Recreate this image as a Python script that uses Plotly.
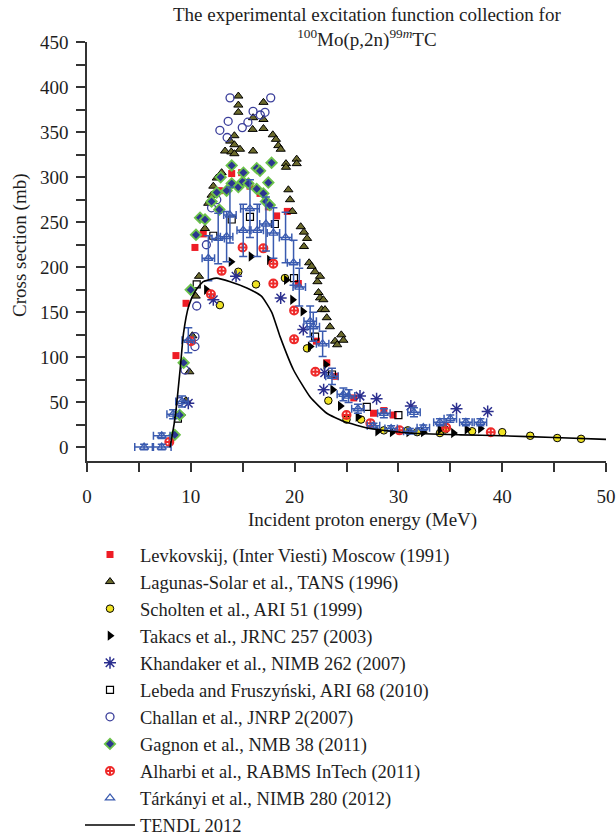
import plotly.graph_objects as go

# ---------------- data ----------------
lev_x = [8.57, 9.54, 10.4, 11.2, 12.75, 13.94, 14.9, 15.7, 16.67, 17.47, 18.27, 19.3, 20.36, 22.1, 23.1, 23.9, 25.7, 27.6, 28.6, 29.5]
lev_y = [102, 160, 222, 237, 285, 304, 305, 290, 282, 267, 257, 262, 182, 118, 94, 79, 55, 38, 41, 36]

lag_x = [9.53, 9.86, 10.15, 10.47, 10.79, 11.36, 11.68, 12.0, 12.17, 12.5, 12.75, 12.97,
         13.3, 13.8, 13.9, 14.2, 14.2, 14.2, 14.58, 14.58, 14.58, 14.74, 15.96, 16.0, 16.0,
         17.0, 17.0, 17.0, 17.9, 18.2, 18.43, 18.66, 19.17, 19.17, 20.2, 20.2, 19.4, 19.56, 19.78,
         20.59, 20.9, 21.2, 20.9, 21.4, 21.64, 21.96, 22.2, 22.45, 22.3, 22.45, 22.77, 22.6, 22.93,
         23.1, 23.4, 23.9, 24.5, 24.7, 24.1]
lag_y = [52, 84, 124, 168, 190, 243, 271, 280, 290, 299, 301, 305,
         329, 340, 328, 346, 336, 326, 390, 380, 372, 331, 353, 366, 329,
         383, 364, 354, 347, 342, 335, 331, 315, 311, 320, 315, 286, 275, 262,
         245, 239, 232, 223, 205, 201, 195, 184, 190, 172, 166, 164, 153, 153,
         144, 134, 118, 125, 119, 114]

sch_x = [12.8, 14.58, 16.28, 19.07, 21.2, 23.25, 25.0, 26.4, 28.6, 30.9, 31.8, 34.0, 34.5, 37.1, 40.0, 42.7, 45.3, 47.6]
sch_y = [158, 195, 181, 188, 110, 52, 31, 31, 19, 19, 17, 16, 20, 18, 17, 13, 10.5, 9.6]

tak_x = [9.12, 11.5, 13.87, 15.8, 17.57, 19.2, 19.8, 20.8, 21.5, 23.0, 23.67, 24.4, 26.1, 28.0, 29.4, 31.0, 32.4, 34.0, 35.3, 36.6, 37.9]
tak_y = [36, 175, 206, 212, 208, 186, 164, 151, 112, 92, 64, 46, 34, 18, 17, 17, 17, 20, 16, 20, 21]

kha_x = [9.76, 12.17, 14.36, 18.66, 20.84, 22.9, 22.8, 26.3, 27.9, 31.2, 35.6, 38.6]
kha_y = [49, 164, 190, 166, 131, 83, 64, 57, 54, 46, 43, 40]

leb_x = [8.76, 10.57, 12.17, 13.94, 15.7, 18.1, 19.94, 21.97, 23.6, 26.95, 30.0]
leb_y = [32, 181, 235, 253, 256, 248, 188, 123, 81, 45, 36]

cha_x = [8.96, 9.44, 10.4, 10.4, 10.57, 11.5, 12.0, 12.5, 12.8, 13.5, 13.6, 13.78, 14.96, 15.5, 16.0, 16.7, 17.15, 17.7]
cha_y = [51, 86, 112, 123, 157, 225, 266, 275, 352, 344, 362, 388, 355, 361, 373, 369, 372, 388]

gag_x = [8.45, 8.93, 9.31, 9.99, 10.5, 10.89, 11.37, 12.0, 12.5, 12.75, 12.88, 13.45, 13.94, 13.94,
         14.58, 15.0, 15.07, 15.55, 16.35, 16.35, 16.67, 16.99, 17.24, 17.47, 17.6, 17.78]
gag_y = [14, 36, 94, 175, 236, 255, 253, 273, 283, 264, 300, 285, 313, 293,
         289, 295, 305, 293, 310, 287, 307, 282, 273, 294, 269, 316]

alh_x = [7.93, 10.02, 11.94, 12.97, 14.99, 16.99, 17.95, 17.95, 19.95, 19.95, 22.0, 25.0, 27.3, 30.1, 34.6, 38.9]
alh_y = [6, 118, 170, 196, 222, 221, 204, 182, 152, 120, 84, 36, 27, 19, 22, 17]

tar_x = [5.5, 7.2, 7.2, 8.3, 9.15, 9.76, 11.69, 12.64, 13.45, 13.77, 15.05, 15.7, 16.4, 17.24, 17.96,
         19.13, 19.9, 20.45, 21.5, 21.8, 22.7, 23.6, 24.7, 25.2, 26.1, 27.6, 28.6, 29.3, 31.1, 31.5,
         32.4, 34.0, 35.0, 36.5, 37.9]
tar_y = [0.5, 0.5, 13, 37, 51, 119, 210, 232, 234, 258, 241, 265, 241, 248, 238,
         233, 205, 178, 140, 134, 115, 79, 59, 57, 43, 24, 38, 21, 18, 39,
         22, 28, 32, 28, 28]
tar_ey = [3, 3, 3, 5, 6, 14, 25, 28, 28, 31, 29, 32, 29, 30, 28,
          28, 25, 21, 17, 16, 14, 9, 7, 7, 5, 3, 5, 3, 3, 5,
          3, 4, 4, 4, 4]
tar_ex = [0.9, 0.9, 0.8, 0.6, 0.6, 0.6, 0.6, 0.6, 0.6, 0.6, 0.6, 0.9, 0.6, 0.6, 0.6,
          0.6, 0.6, 0.6, 0.6, 0.6, 0.6, 0.6, 0.6, 0.6, 0.6, 0.6, 0.6, 0.6, 0.6, 0.6,
          0.6, 0.6, 0.6, 0.6, 0.6]

tendl_x = [8.0, 8.5, 9.0, 9.3, 9.8, 10.4, 11.2, 12.5, 13.8, 15.4, 16.8, 17.8, 18.6, 19.9, 21.5,
           23.1, 24.7, 27.3, 31.0, 36.0, 40.0, 45.0, 50.0]
tendl_y = [0, 34, 90, 127, 157, 173, 184, 188, 184, 177, 168, 150, 123, 86, 56,
           38, 29, 21, 16, 14, 13, 11, 9]

x_ticks = [0, 10, 20, 30, 40, 50]
y_ticks = [0, 50, 100, 150, 200, 250, 300, 350, 400, 450]

# ---------------- figure ----------------
FONT = "Liberation Serif"
INK = "#1e1e1e"
fig = go.Figure()

def add(name, x, y, marker, **kw):
    fig.add_trace(go.Scatter(x=x, y=y, mode="markers", name=name, marker=marker, **kw))

add("Levkovskij, (Inter Viesti) Moscow (1991)", lev_x, lev_y,
    dict(symbol="square", size=7, color="#ee1c25", line=dict(width=0)))
add("Lagunas-Solar et al., TANS (1996)", lag_x, lag_y,
    dict(symbol="triangle-up", size=8, color="#6b6a2c", line=dict(width=1, color="black")))
add("Scholten et al., ARI 51 (1999)", sch_x, sch_y,
    dict(symbol="circle", size=7.5, color="#f0e324", line=dict(width=1, color="black")))
add("Takacs et al., JRNC 257 (2003)", tak_x, tak_y,
    dict(symbol="triangle-right", size=9, color="black", line=dict(width=0)))
add("Khandaker et al., NIMB 262 (2007)", kha_x, kha_y,
    dict(symbol="asterisk-open", size=10, color="#2b2f8f", line=dict(width=1.5, color="#2b2f8f")))
add("Lebeda and Fruszyński, ARI 68 (2010)", leb_x, leb_y,
    dict(symbol="square-open", size=7, color="black", line=dict(width=1.2, color="black")))
add("Challan et al., JNRP 2(2007)", cha_x, cha_y,
    dict(symbol="circle-open", size=8, color="#3b3f9b", line=dict(width=1.3, color="#3b3f9b")))
add("Gagnon et al., NMB 38 (2011)", gag_x, gag_y,
    dict(symbol="diamond", size=8, color="#2b3590", line=dict(width=1.8, color="#6cc24a")))
add("Alharbi et al., RABMS InTech (2011)", alh_x, alh_y,
    dict(symbol="circle-cross-open", size=8, color="#ee2a2a", line=dict(width=2, color="#ee2a2a")))
add("Tárkányi et al., NIMB 280 (2012)", tar_x, tar_y,
    dict(symbol="triangle-up-open", size=8, color="#3a5bb0", line=dict(width=1.3, color="#3a5bb0")),
    error_y=dict(type="data", array=tar_ey, color="#3a5bb0", thickness=1.5, width=4),
    error_x=dict(type="data", array=tar_ex, color="#3a5bb0", thickness=1.5, width=4))
fig.add_trace(go.Scatter(x=tendl_x, y=tendl_y, mode="lines", name="TENDL 2012",
                         line=dict(color="black", width=1.6, shape="spline", smoothing=0.5)))

axis_common = dict(showgrid=False, zeroline=False, showline=True, linecolor="#333333", linewidth=1.5,
                   ticks="outside", ticklen=9, tickwidth=1.5, tickcolor="#333333",
                   tickfont=dict(family=FONT, size=19, color=INK))

fig.update_xaxes(range=[0, 50], tickvals=x_ticks, ticklabelstandoff=8,
                 minor=dict(dtick=5, ticks="outside", ticklen=9, tickwidth=1.5, tickcolor="#333333", showgrid=False),
                 **axis_common)
fig.update_yaxes(range=[-15, 450], tickvals=y_ticks, ticklabelstandoff=4,
                 minor=dict(dtick=25, tick0=0, ticks="outside", ticklen=9, tickwidth=1.5, tickcolor="#333333", showgrid=False),
                 **axis_common)

# title and axis titles as positioned text
fig.add_annotation(
    text="The experimental excitation function collection for<br><sup>100</sup>Mo(p,2n)<sup>99<i>m</i></sup>TC",
    xref="paper", x=0.54, xanchor="center",
    yref="paper", y=1 + 40 / 419, yanchor="top",
    showarrow=False, align="center",
    font=dict(family=FONT, size=19, color=INK))
fig.add_annotation(
    text="Incident proton energy (MeV)",
    xref="paper", x=0.53, xanchor="center",
    yref="paper", y=(461 - 520) / 419, yanchor="middle",
    showarrow=False, font=dict(family=FONT, size=19, color=INK))
fig.add_annotation(
    text="Cross section (mb)", textangle=-90,
    xref="paper", x=(20 - 87) / 519, xanchor="center",
    yref="paper", y=(461 - 245) / 419, yanchor="middle",
    showarrow=False, font=dict(family=FONT, size=19, color=INK))

fig.update_layout(
    width=616, height=835,
    margin=dict(l=87, r=10, t=42, b=374, autoexpand=False),
    plot_bgcolor="white", paper_bgcolor="white",
    font=dict(family=FONT, color=INK),
    legend=dict(xref="container", x=80 / 616, xanchor="left",
                yref="container", y=1 - 536 / 835, yanchor="top",
                font=dict(family=FONT, size=18.5, color=INK),
                itemwidth=50, bgcolor="rgba(0,0,0,0)", tracegroupgap=0),
    showlegend=True,
)

fig.write_html("out.html")
